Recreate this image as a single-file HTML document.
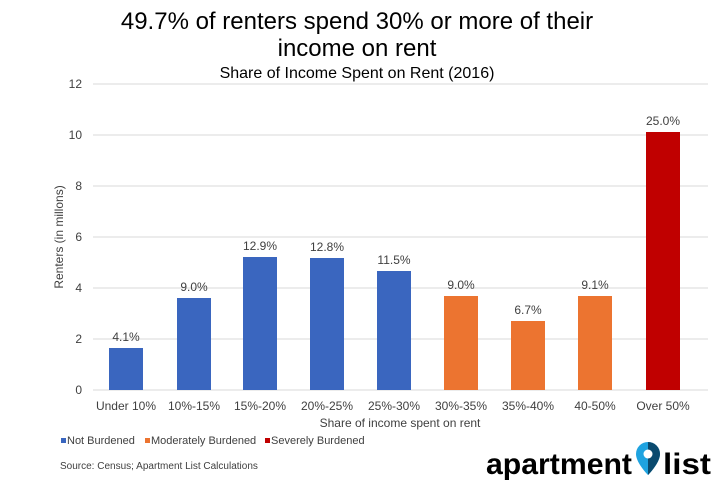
<!DOCTYPE html>
<html><head><style>body{margin:0;background:#fff}svg{display:block;font-family:"Liberation Sans",Arial,sans-serif}</style></head>
<body>
<svg width="715" height="489" viewBox="0 0 715 489">
<text x="357" y="29" text-anchor="middle" font-size="24" fill="#000">49.7% of renters spend 30% or more of their</text>
<text x="357" y="56" text-anchor="middle" font-size="24" fill="#000">income on rent</text>
<text x="357" y="78" text-anchor="middle" font-size="16" fill="#000">Share of Income Spent on Rent (2016)</text>
<g stroke="#d9d9d9" stroke-width="1">
<line x1="93" x2="708" y1="84" y2="84"/><line x1="93" x2="708" y1="135" y2="135"/>
<line x1="93" x2="708" y1="186" y2="186"/><line x1="93" x2="708" y1="237" y2="237"/>
<line x1="93" x2="708" y1="288" y2="288"/><line x1="93" x2="708" y1="339" y2="339"/>
<line x1="93" x2="708" y1="390" y2="390"/>
</g>
<g font-size="12" fill="#404040" text-anchor="end">
<text x="82" y="88">12</text><text x="82" y="139">10</text><text x="82" y="190">8</text>
<text x="82" y="241">6</text><text x="82" y="292">4</text><text x="82" y="343">2</text><text x="82" y="394">0</text>
</g>
<text transform="translate(63,237) rotate(-90)" text-anchor="middle" font-size="12" fill="#404040">Renters (in millons)</text>
<g>
<rect x="109" y="348" width="34" height="42" fill="#3a66bf"/>
<rect x="177" y="298" width="34" height="92" fill="#3a66bf"/>
<rect x="243" y="257" width="34" height="133" fill="#3a66bf"/>
<rect x="310" y="258" width="34" height="132" fill="#3a66bf"/>
<rect x="377" y="271" width="34" height="119" fill="#3a66bf"/>
<rect x="444" y="296" width="34" height="94" fill="#ec7430"/>
<rect x="511" y="321" width="34" height="69" fill="#ec7430"/>
<rect x="578" y="296" width="34" height="94" fill="#ec7430"/>
<rect x="646" y="132" width="34" height="258" fill="#c00000"/>
</g>
<g font-size="12" fill="#404040" text-anchor="middle">
<text x="126" y="341">4.1%</text><text x="194" y="291">9.0%</text><text x="260" y="250">12.9%</text>
<text x="327" y="251">12.8%</text><text x="394" y="264">11.5%</text><text x="461" y="289">9.0%</text>
<text x="528" y="314">6.7%</text><text x="595" y="289">9.1%</text><text x="663" y="125">25.0%</text>
</g>
<g font-size="12" fill="#404040" text-anchor="middle">
<text x="126" y="410">Under 10%</text><text x="194" y="410">10%-15%</text><text x="260" y="410">15%-20%</text>
<text x="327" y="410">20%-25%</text><text x="394" y="410">25%-30%</text><text x="461" y="410">30%-35%</text>
<text x="528" y="410">35%-40%</text><text x="595" y="410">40-50%</text><text x="663" y="410">Over 50%</text>
<text x="400" y="427">Share of income spent on rent</text>
</g>
<g font-size="11" fill="#404040">
<rect x="61" y="438" width="5" height="5" fill="#3a66bf"/><text x="67" y="444">Not Burdened</text>
<rect x="145" y="438" width="5" height="5" fill="#ec7430"/><text x="151" y="444">Moderately Burdened</text>
<rect x="265" y="438" width="5" height="5" fill="#c00000"/><text x="271" y="444">Severely Burdened</text>
<text x="60" y="469" font-size="10">Source: Census; Apartment List Calculations</text>
</g>
<text x="486" y="474" font-size="30" font-weight="bold" fill="#000" textLength="146" lengthAdjust="spacingAndGlyphs">apartment</text>
<path d="M636 454 a12 12 0 0 1 24 0 c0 9 -12 21 -12 21 c0 0 -12 -12 -12 -21z" fill="#1fa3e0"/>
<path d="M648 442 a12 12 0 0 1 12 12 c0 9 -12 21 -12 21z" fill="#0a4a6e"/>
<circle cx="648" cy="454" r="4.5" fill="#fff"/>
<text x="663" y="474" font-size="30" font-weight="bold" fill="#000" textLength="48" lengthAdjust="spacingAndGlyphs">list</text>
</svg>
</body></html>
